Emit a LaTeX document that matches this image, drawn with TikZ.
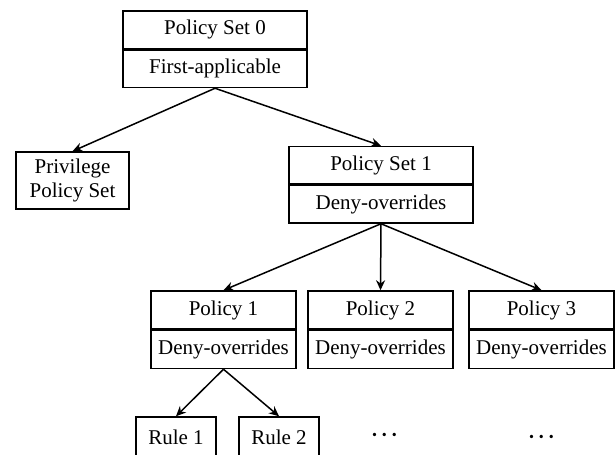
\documentclass[tikz,border=0pt]{standalone}
\usepackage{fontspec}
\setmainfont{Liberation Serif}
\usetikzlibrary{positioning,arrows.meta}
\newcommand{\moredots}{{\boldmath$\cdot\mkern-2mu\cdot\mkern-2mu\cdot$}}

\begin{document}
\begin{tikzpicture}[x=0.5pt, y=-0.5pt, font=\fontsize{10.5}{12}\selectfont,
  box/.style={draw, line width=0.75pt, inner sep=0pt, align=center},
  setbox/.style={box, minimum width=92pt, minimum height=18.75pt},
  polbox/.style={box, minimum width=72.5pt, minimum height=19pt},
  rulebox/.style={box, minimum width=40pt, minimum height=20pt},
  arr/.style={-{Stealth[length=5pt, width=4.5pt]}, line width=0.75pt}]

\useasboundingbox (0,0) rectangle (616,455);

% Top policy set
\node[setbox] (ps0) at (215,29.75) {Policy Set 0};
\node[setbox, below=0pt of ps0] (ps0alg) {First-applicable};

% Second level
\node[box, minimum width=56.5pt, minimum height=28.5pt] (priv) at (72.5,180.5) {Privilege\\Policy Set};
\node[setbox] (ps1) at (381,165.25) {Policy Set 1};
\node[setbox, below=0pt of ps1] (ps1alg) {Deny-overrides};

% Policies
\node[polbox] (pol1) at (223.5,310) {Policy 1};
\node[polbox, below=0pt of pol1] (pol1alg) {Deny-overrides};
\node[polbox] (pol2) at (380.5,310) {Policy 2};
\node[polbox, below=0pt of pol2] (pol2alg) {Deny-overrides};
\node[polbox] (pol3) at (541.5,310) {Policy 3};
\node[polbox, below=0pt of pol3] (pol3alg) {Deny-overrides};

% Rules
\node[rulebox] (rule1) at (176,437) {Rule 1};
\node[rulebox] (rule2) at (279,437) {Rule 2};
\node (dots1) at (384.5,435) {\moredots};
\node (dots2) at (541.5,437) {\moredots};

% Arrows
\draw[arr] (ps0alg.south) -- (priv.north);
\draw[arr] (ps0alg.south) -- (ps1.north);
\draw[arr] (ps1alg.south) -- (pol1.north);
\draw[arr] (ps1alg.south) -- (pol2.north);
\draw[arr] (ps1alg.south) -- (pol3.north);
\draw[arr] (pol1alg.south) -- (rule1.north);
\draw[arr] (pol1alg.south) -- (rule2.north);

\end{tikzpicture}
\end{document}
